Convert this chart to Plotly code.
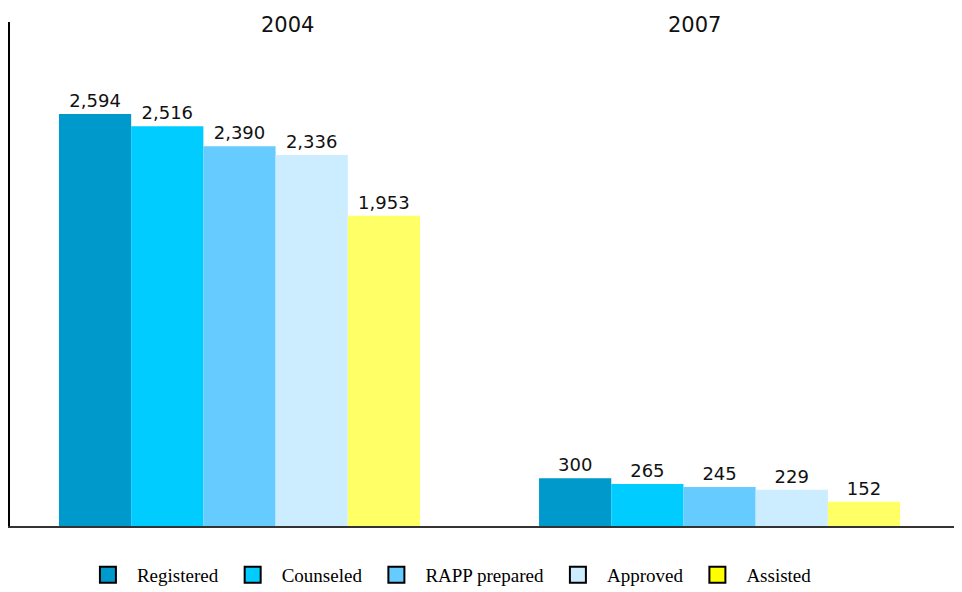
import plotly.graph_objects as go

years = ["2004", "2007"]
series_names = ["Registered", "Counseled", "RAPP prepared", "Approved", "Assisted"]
registered = [2594, 300]
counseled = [2516, 265]
rapp_prepared = [2390, 245]
approved = [2336, 229]
assisted = [1953, 152]

values = [registered, counseled, rapp_prepared, approved, assisted]
bar_colors = ["#0099CC", "#00CCFF", "#66CCFF", "#CCECFF", "#FFFF66"]
legend_colors = ["#0099CC", "#00CCFF", "#66CCFF", "#CCECFF", "#FFFF00"]

fig = go.Figure()
for name, vals, col in zip(series_names, values, bar_colors):
    fig.add_trace(go.Bar(
        x=years, y=vals, name=name, marker=dict(color=col, line=dict(width=0)),
        text=[f"{v:,}" for v in vals], textposition="outside",
        textfont=dict(family="DejaVu Sans", size=18, color="#111111"),
        cliponaxis=False, showlegend=False,
    ))

for name, col in zip(series_names, legend_colors):
    fig.add_trace(go.Scatter(
        x=[None], y=[None], mode="markers", name=name,
        marker=dict(symbol="square", size=16, color=col,
                    line=dict(color="black", width=2)),
    ))

label_pos = [0.291, 0.7185]
for yr, px in zip(years, label_pos):
    fig.add_annotation(text=yr, x=px, xref="paper", y=0.994, yref="paper",
                       yanchor="middle", xanchor="center", showarrow=False,
                       font=dict(family="DejaVu Sans", size=21, color="#111111"))

# page body adds an 8px offset, so the figure is sized 8px smaller
fig.update_layout(
    width=954, height=584,
    margin=dict(l=2, r=0, t=14, b=66, autoexpand=False),
    paper_bgcolor="white", plot_bgcolor="white",
    barmode="group", bargap=0.248, bargroupgap=0,
    xaxis=dict(type="category", range=[-0.478, 1.505], showticklabels=False,
               showline=True, linecolor="#333333", linewidth=2, showgrid=False,
               zeroline=False, ticks="", automargin=False),
    yaxis=dict(range=[0, 3173], showticklabels=False, showline=True,
               linecolor="black", linewidth=2, showgrid=False, zeroline=False,
               ticks="", automargin=False),
    legend=dict(orientation="h", x=0.46, xanchor="center", y=-0.097,
                yanchor="middle", font=dict(family="Liberation Serif", size=19,
                                            color="black"),
                itemwidth=48, itemsizing="trace"),
)

fig.write_html("out.html")
